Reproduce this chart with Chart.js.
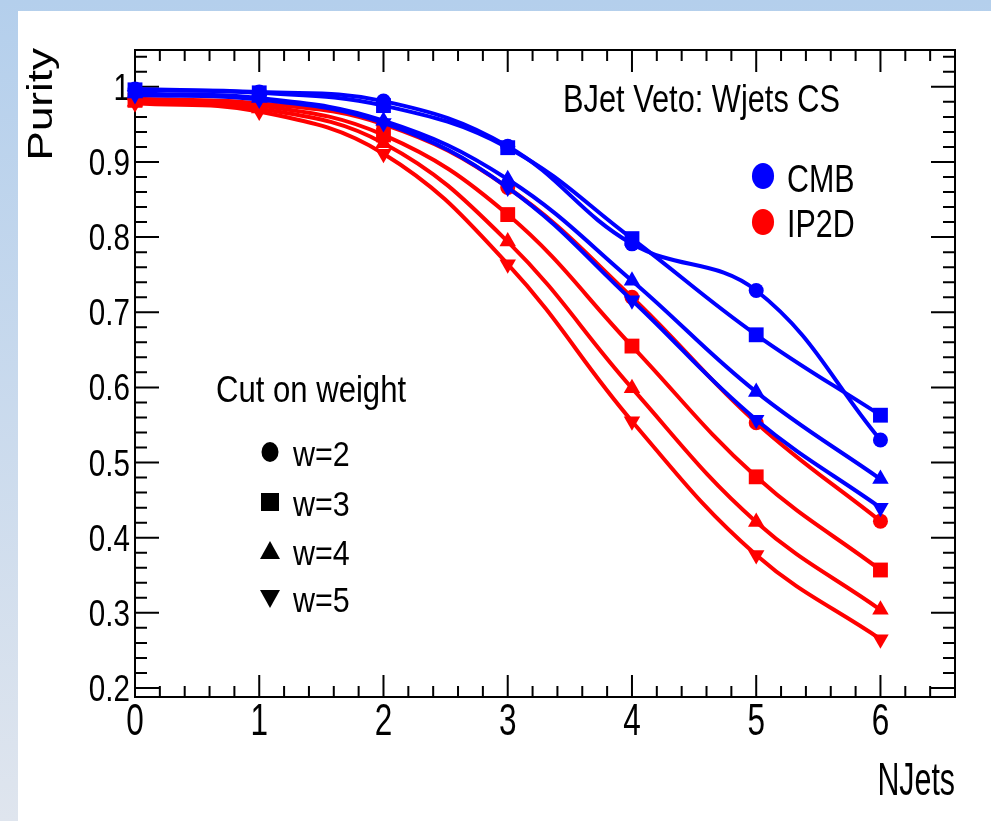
<!DOCTYPE html>
<html>
<head>
<meta charset="utf-8">
<script src="https://cdn.jsdelivr.net/npm/chart.js@4.4.1/dist/chart.umd.min.js"></script>
<style>
  html, body { margin: 0; padding: 0; }
  body {
    width: 991px; height: 821px; overflow: hidden; position: relative;
    background: linear-gradient(to bottom, #b4cfec 0%, #dfe5ee 100%);
  }
  #pad { position: absolute; left: 18px; top: 11px; right: 0; bottom: 0; background: #fff; }
  #purity { position: absolute; left: 0; top: 0; }
</style>
</head>
<body>
<div id="pad"></div>
<canvas id="purity" width="991" height="821"></canvas>
<script>
// NJets bins
const nJets = [0, 1, 2, 3, 4, 5, 6];

// CMB tagger, cut on weight w=2..5
const cmbW2 = [0.997, 0.993, 0.981, 0.921, 0.791, 0.729, 0.530];
const cmbW3 = [0.996, 0.992, 0.975, 0.919, 0.798, 0.670, 0.563];
const cmbW4 = [0.991, 0.985, 0.955, 0.877, 0.742, 0.594, 0.478];
const cmbW5 = [0.989, 0.983, 0.952, 0.866, 0.716, 0.557, 0.440];

// IP2D tagger
const ip2dW2 = [0.984, 0.978, 0.950, 0.866, 0.720, 0.553, 0.422];
const ip2dW3 = [0.982, 0.975, 0.936, 0.830, 0.655, 0.481, 0.357];
const ip2dW4 = [0.980, 0.971, 0.925, 0.794, 0.599, 0.421, 0.304];
const ip2dW5 = [0.978, 0.967, 0.911, 0.764, 0.555, 0.377, 0.265];

// axis labels
const xTicks = [0, 1, 2, 3, 4, 5, 6];
const xTickLabels = ["0", "1", "2", "3", "4", "5", "6"];
const yTicks = [0.2, 0.3, 0.4, 0.5, 0.6, 0.7, 0.8, 0.9, 1.0];
const yTickLabels = ["0.2", "0.3", "0.4", "0.5", "0.6", "0.7", "0.8", "0.9", "1"];
const weightLabels = ["w=2", "w=3", "w=4", "w=5"];

const FONT = '"Liberation Sans", Arial, sans-serif';
const BLUE = "#0000ff";
const RED = "#ff0000";

function pts(arr) {
  return nJets.map((x, i) => ({ x: x, y: arr[i] }));
}

// ROOT text looks horizontally squeezed
function squeezed(ctx, str, x, y, size, sx, align, baseline) {
  ctx.save();
  ctx.translate(x, y);
  ctx.scale(sx, 1);
  ctx.font = size + "px " + FONT;
  ctx.fillStyle = "#000";
  ctx.textAlign = align;
  ctx.textBaseline = baseline;
  ctx.fillText(str, 0, 0);
  ctx.restore();
}

function marker(ctx, kind, x, y, r, color) {
  ctx.save();
  ctx.fillStyle = color;
  ctx.beginPath();
  if (kind === "circle") {
    ctx.ellipse(x, y, r * 0.85, r, 0, 0, Math.PI * 2);
  } else if (kind === "rect") {
    ctx.rect(x - r, y - r, 2 * r, 2 * r);
  } else if (kind === "up") {
    ctx.moveTo(x, y - r);
    ctx.lineTo(x + r, y + r * 0.8);
    ctx.lineTo(x - r, y + r * 0.8);
  } else {
    ctx.moveTo(x, y + r);
    ctx.lineTo(x + r, y - r * 0.8);
    ctx.lineTo(x - r, y - r * 0.8);
  }
  ctx.closePath();
  ctx.fill();
  ctx.restore();
}

function makeSet(label, arr, color, style, radius, rot) {
  return {
    label: label,
    data: pts(arr),
    borderColor: color,
    backgroundColor: color,
    borderWidth: 4,
    tension: 0.4,
    pointStyle: style,
    pointRadius: radius,
    pointRotation: rot || 0,
    pointBorderWidth: 0,
    clip: false,
  };
}

// frame with ROOT-like inward ticks
const framePlugin = {
  id: "frame",
  beforeDatasetsDraw(chart) {
    const ctx = chart.ctx;
    const a = chart.chartArea;
    const xs = chart.scales.x;
    const ys = chart.scales.y;
    ctx.save();
    ctx.strokeStyle = "#000";
    ctx.lineWidth = 2;

    // x ticks, every 0.2, major at integers
    for (let i = 0; i <= 33; i++) {
      const px = xs.getPixelForValue(i * 0.2);
      const len = i % 5 === 0 ? 22 : 11;
      ctx.beginPath();
      ctx.moveTo(px, a.bottom);
      ctx.lineTo(px, a.bottom - len);
      ctx.moveTo(px, a.top);
      ctx.lineTo(px, a.top + len);
      ctx.stroke();
    }
    // y ticks, every 0.02, major every 0.1
    for (let i = 10; i <= 52; i++) {
      const py = ys.getPixelForValue(i * 0.02);
      const len = i % 5 === 0 ? 24 : 12;
      ctx.beginPath();
      ctx.moveTo(a.left, py);
      ctx.lineTo(a.left + len, py);
      ctx.moveTo(a.right, py);
      ctx.lineTo(a.right - len, py);
      ctx.stroke();
    }
    ctx.strokeRect(a.left, a.top, a.right - a.left, a.bottom - a.top);

    // tick labels
    yTicks.forEach((v, i) => {
      squeezed(ctx, yTickLabels[i], a.left - 5, ys.getPixelForValue(v) + 13, 37, 0.8, "right", "alphabetic");
    });
    xTicks.forEach((v, i) => {
      squeezed(ctx, xTickLabels[i], xs.getPixelForValue(v), a.bottom + 38, 45, 0.7, "center", "alphabetic");
    });
    ctx.restore();
  },
  afterDraw(chart) {
    const ctx = chart.ctx;
    // axis titles
    ctx.save();
    ctx.translate(52, 48);
    ctx.rotate(-Math.PI / 2);
    ctx.scale(1, 0.8);
    ctx.font = "44px " + FONT;
    ctx.fillStyle = "#000";
    ctx.textAlign = "right";
    ctx.textBaseline = "alphabetic";
    ctx.fillText("Purity", 0, 0);
    ctx.restore();
    squeezed(ctx, "NJets", 955, 795, 46, 0.66, "right", "alphabetic");

    squeezed(ctx, "BJet Veto: Wjets CS", 563, 112, 38, 0.81, "left", "alphabetic");

    // tagger legend
    marker(ctx, "circle", 763, 176, 13, BLUE);
    squeezed(ctx, "CMB", 787, 192, 38, 0.8, "left", "alphabetic");
    marker(ctx, "circle", 763, 222, 13, RED);
    squeezed(ctx, "IP2D", 787, 237, 38, 0.8, "left", "alphabetic");

    // weight legend
    squeezed(ctx, "Cut on weight", 216, 402, 37, 0.84, "left", "alphabetic");
    const kinds = ["circle", "rect", "up", "down"];
    const rows = [452, 502, 551, 598];
    kinds.forEach((k, i) => {
      marker(ctx, k, 270, rows[i], k === "rect" ? 9 : 10, "#000");
      squeezed(ctx, weightLabels[i], 293, rows[i] + 14, 35, 0.87, "left", "alphabetic");
    });
  },
};

new Chart(document.getElementById("purity"), {
  type: "line",
  data: {
    datasets: [
      makeSet("CMB w=2", cmbW2, BLUE, "circle", 7.5),
      makeSet("CMB w=3", cmbW3, BLUE, "rect", 10.5),
      makeSet("CMB w=4", cmbW4, BLUE, "triangle", 9.5),
      makeSet("CMB w=5", cmbW5, BLUE, "triangle", 9.5, 180),
      makeSet("IP2D w=2", ip2dW2, RED, "circle", 7.5),
      makeSet("IP2D w=3", ip2dW3, RED, "rect", 10.5),
      makeSet("IP2D w=4", ip2dW4, RED, "triangle", 9.5),
      makeSet("IP2D w=5", ip2dW5, RED, "triangle", 9.5, 180),
    ],
  },
  options: {
    responsive: false,
    devicePixelRatio: 1,
    animation: false,
    layout: { padding: { left: 135, right: 36, top: 50, bottom: 124 } },
    scales: {
      x: { type: "linear", min: 0, max: 6.6, display: false },
      y: { type: "linear", min: 0.188, max: 1.049, display: false },
    },
    plugins: { legend: { display: false }, tooltip: { enabled: false } },
  },
  plugins: [framePlugin],
});
</script>
</body>
</html>
